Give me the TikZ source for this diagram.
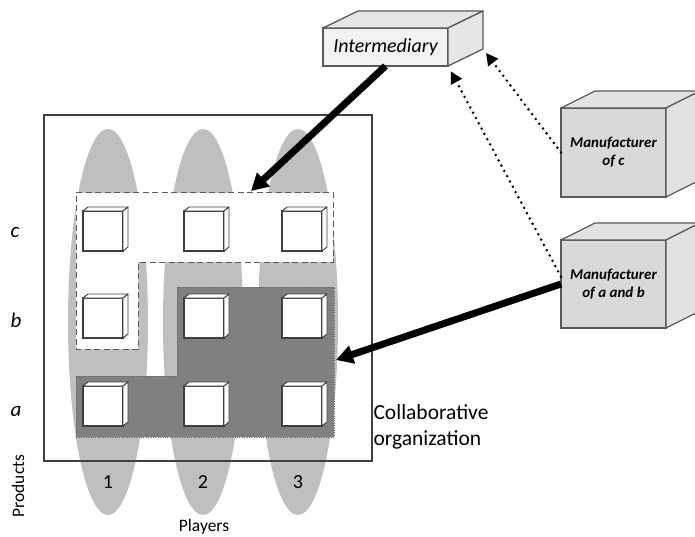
\documentclass[tikz,border=0pt]{standalone}
\usepackage{fontspec}
\setmainfont{Carlito}
\usepackage{tikz}
\usetikzlibrary{
    positioning,
    arrows.meta,
    calc
}
\definecolor{ovalgray}{RGB}{191,191,191}
\definecolor{sharedgray}{RGB}{128,128,128}
\definecolor{edgegray}{RGB}{90,90,90}
\definecolor{boxgray}{RGB}{217,217,217}
\definecolor{boxside}{RGB}{226,226,226}
\definecolor{interfill}{RGB}{242,242,242}
\tikzset{
    player/.style={
        fill=ovalgray, draw=none
    },
    itembox/.style={
        rectangle, draw=edgegray!70!black, line width=1.4pt, fill=white,
        minimum width=40pt, minimum height=40pt, inner sep=0pt, outer sep=0pt
    },
    itemface/.style={
        draw=edgegray!70!black, line width=0.9pt, fill=white, line join=round
    },
    bigbox/.style={
        rectangle, draw=edgegray, line width=1.3pt, fill=boxgray,
        minimum width=105pt, minimum height=88pt, align=center, outer sep=0pt,
        font=\fontsize{15}{18}\selectfont\bfseries\itshape
    },
    bigface/.style={
        draw=edgegray, line width=1.3pt, fill=boxside, line join=round
    },
    frame/.style={
        draw=black!75, line width=1.6pt
    }
}

\begin{document}
\begin{tikzpicture}[
    x=1pt, y=-1pt,
    interbox/.style={bigbox, fill=interfill, minimum width=125pt, minimum height=38pt,
        font=\fontsize{20}{22}\selectfont\itshape},
    interface/.style={bigface, fill=interfill!95!black},
    openregion/.style={fill=white, draw=black!65, line width=1pt, dash pattern=on 6pt off 3.5pt},
    sharedregion/.style={fill=sharedgray, draw=black!60, line width=0.8pt, dash pattern=on 0.8pt off 1.6pt},
    flow/.style={-{Triangle[length=17pt,width=18pt]}, line width=7pt, draw=black},
    supply/.style={-{Triangle[length=12pt,width=12pt]}, line width=2.8pt, line cap=round,
        dash pattern=on 0pt off 6pt, draw=black},
    rowlabel/.style={font=\fontsize{21}{24}\selectfont\itshape},
    colnum/.style={font=\fontsize{20}{24}\selectfont},
    axislabel/.style={font=\fontsize{17.5}{20}\selectfont},
    note/.style={font=\fontsize{21.5}{26}\selectfont, align=left}
]
    \clip (0,0) rectangle (695,537);

    % --- PLAYERS (columns) ---
    \foreach \col/\x in {1/108, 2/203, 3/298}
        \fill[player] (\x,322) ellipse [x radius=40, y radius=193];

    % --- REGIONS ---
    \draw[openregion] (76,193) -- (333,193) -- (333,262) -- (138,262) -- (138,349) -- (76,349) -- cycle;
    \draw[sharedregion] (177,287) -- (334,287) -- (334,437) -- (76,437) -- (76,376) -- (177,376) -- cycle;
    \coordinate (openin) at (251,191);
    \coordinate (sharedin) at (336,360);

    % --- PRODUCT CELLS ---
    \foreach \col/\x in {1/103, 2/204, 3/302}
        \foreach \row/\y in {c/231, b/318, a/406} {
            \node[itembox] (cell-\col-\row) at (\x,\y) {};
            \draw[itemface] (cell-\col-\row.north west) -- ++(5,-4)
                -- ([shift={(5,-4)}]cell-\col-\row.north east) -- (cell-\col-\row.north east) -- cycle;
            \draw[itemface] (cell-\col-\row.north east) -- ++(5,-4)
                -- ([shift={(5,-4)}]cell-\col-\row.south east) -- (cell-\col-\row.south east) -- cycle;
        }

    % --- FRAME + AXES ---
    \draw[frame] (44,115) rectangle (372,461);
    \node[rowlabel] (row-c) at (15,232) {c};
    \node[rowlabel] (row-b) at (16,320) {b};
    \node[rowlabel] (row-a) at (16,411) {a};
    \node[colnum] (num-1) at (108,482) {1};
    \node[colnum] (num-2) at (203,482) {2};
    \node[colnum] (num-3) at (298,482) {3};
    \node[axislabel, rotate=90] (products) at (18,486) {Products};
    \node[axislabel] (players) at (204,527) {Players};
    \node[note, anchor=west] (collab) at (370,427) {Collaborative\\organization};

    % --- INTERMEDIARY ---
    \node[interbox] (inter) at (385.5,47) {Intermediary};
    \draw[interface] (inter.north west) -- ++(35,-17)
        -- ([shift={(35,-17)}]inter.north east) -- (inter.north east) -- cycle;
    \draw[interface] (inter.north east) -- ++(35,-17)
        -- ([shift={(35,-17)}]inter.south east) -- (inter.south east) -- cycle;

    % --- MANUFACTURERS ---
    \node[bigbox, minimum height=89pt] (mc) at (613.5,152.5) {Manufacturer\\of c};
    \node[bigbox, below=43pt of mc] (mab) {Manufacturer\\of a and b};
    \foreach \m in {mc, mab} {
        \draw[bigface] (\m.north west) -- ++(34,-17)
            -- ([shift={(34,-17)}]\m.north east) -- (\m.north east) -- cycle;
        \draw[bigface] (\m.north east) -- ++(34,-17)
            -- ([shift={(34,-17)}]\m.south east) -- (\m.south east) -- cycle;
    }

    % --- ARROWS ---
    \draw[supply, shorten >=5pt] (mc.west) -- ([shift={(35,-17)}]inter.south east);
    \draw[supply, shorten >=6pt] (mab.172) -- (inter.south east);
    \draw[flow] (inter.south) -- (openin);
    \draw[flow] (mab.west) -- (sharedin);

\end{tikzpicture}
\end{document}
